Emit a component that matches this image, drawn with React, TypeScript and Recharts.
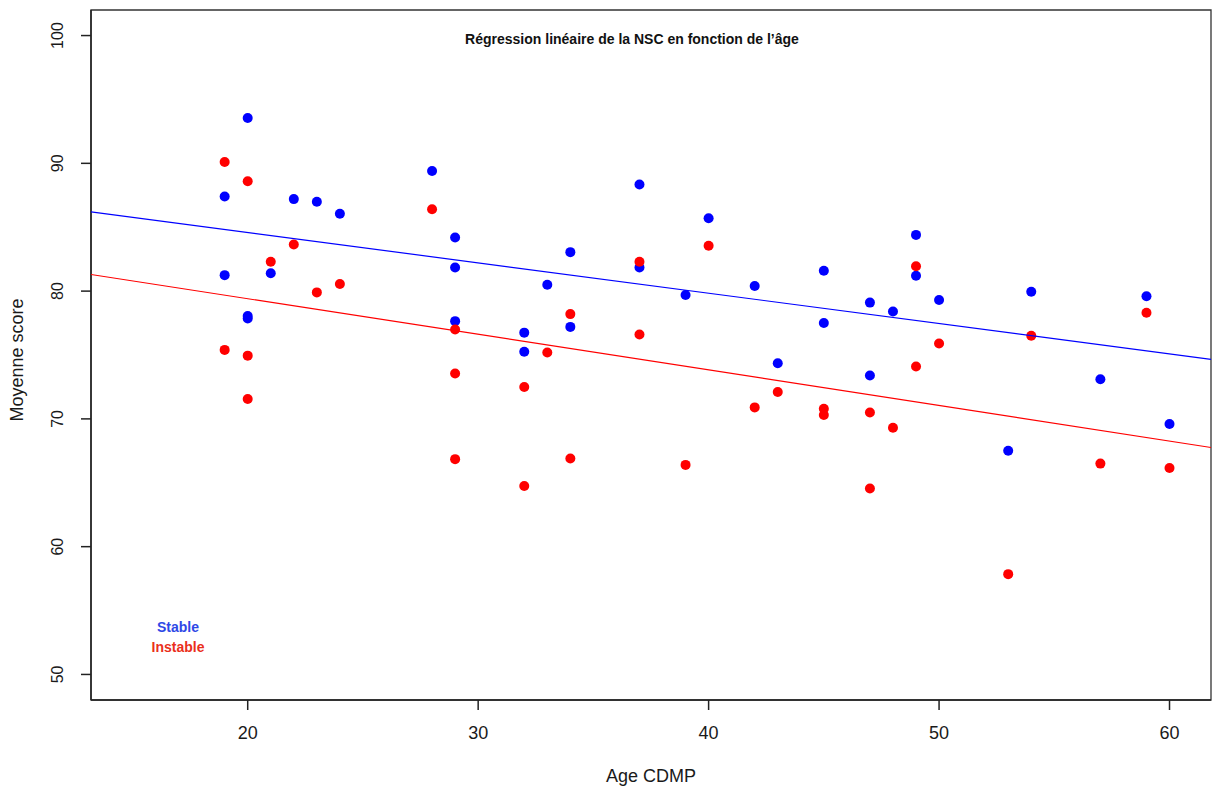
import { ScatterChart, Scatter, XAxis, YAxis, ReferenceArea, Label } from 'recharts'

const FONT = '"Liberation Sans", Arial, Helvetica, sans-serif'

// age of each subject (same subjects in both groups)
const ages = [
  19, 19, 20, 20, 20, 21, 22, 23, 24, 28, 29, 29, 29, 32, 32, 33, 34, 34, 37,
  37, 39, 40, 42, 43, 45, 45, 47, 47, 48, 49, 49, 50, 53, 54, 57, 59, 60,
]
const stableScores = [
  87.4, 81.25, 93.55, 78.05, 77.85, 81.4, 87.2, 87.0, 86.05, 89.4, 84.2, 81.85, 77.65,
  76.75, 75.25, 80.5, 83.05, 77.2, 88.35, 81.85, 79.7, 85.7, 80.4, 74.35, 81.6, 77.5,
  79.1, 73.4, 78.4, 84.4, 81.2, 79.3, 67.5, 79.95, 73.1, 79.6, 69.6,
]
const instableScores = [
  90.1, 75.4, 88.6, 74.95, 71.55, 82.3, 83.65, 79.9, 80.55, 86.4, 77.0, 73.55, 66.85,
  72.5, 64.75, 75.2, 78.2, 66.9, 82.3, 76.6, 66.4, 83.55, 70.9, 72.1, 70.8, 70.3,
  70.5, 64.55, 69.3, 81.95, 74.1, 75.9, 57.85, 76.5, 66.5, 78.3, 66.15,
]

// regression lines, ends at the plot edges
const fitAges = [13.2, 61.8]
const stableFit = [86.2, 74.66]
const instableFit = [81.3, 67.76]

const xTicks = [20, 30, 40, 50, 60]
const yTicks = [50, 60, 70, 80, 90, 100]
const xDomain: [number, number] = [13.2, 61.8]
const yDomain: [number, number] = [48, 102]

const groups = [
  { name: 'Stable', scores: stableScores, fit: stableFit, color: '#0000FF', text: '#2E48E6' },
  { name: 'Instable', scores: instableScores, fit: instableFit, color: '#FF0000', text: '#EA2F1C' },
]

const toPoints = (xs: number[], ys: number[]) => xs.map((age, i) => ({ age, score: ys[i] }))

const Dot = (color: string) => (p: any) => <circle cx={p.cx} cy={p.cy} r={5} fill={color} />

const YTick = (p: any) => (
  <text x={p.x} y={p.y} transform={`rotate(-90, ${p.x}, ${p.y})`}
    textAnchor="middle" fontSize={16} fontFamily={FONT} fill="#1a1a1a">
    {p.payload.value}
  </text>
)

export default function App() {
  return (
    <div style={{ position: 'absolute', left: 0, top: 0, width: 1221, height: 790, background: '#fff' }}>
      <div style={{
        position: 'absolute', left: 432, top: 29, width: 400, textAlign: 'center',
        fontFamily: FONT, fontWeight: 'bold', fontSize: 14, lineHeight: '20px', color: '#111',
      }}>
        Régression linéaire de la NSC en fonction de l’âge
      </div>
      <div style={{
        position: 'absolute', left: 128, top: 617, width: 100, textAlign: 'center', zIndex: 1,
        fontFamily: FONT, fontWeight: 'bold', fontSize: 14, lineHeight: '20px',
      }}>
        {groups.map(g => <div key={g.name} style={{ color: g.text }}>{g.name}</div>)}
      </div>
      <ScatterChart width={1221} height={790} margin={{ top: 10, right: 10, bottom: 0, left: 0 }}>
        <XAxis type="number" dataKey="age" domain={xDomain} ticks={xTicks} allowDataOverflow
          height={90} tickSize={10} tickMargin={16}
          axisLine={{ stroke: '#222', strokeWidth: 1.5 }} tickLine={{ stroke: '#222', strokeWidth: 1.5 }}
          tick={{ fill: '#1a1a1a', fontSize: 18, fontFamily: FONT }}>
          <Label content={({ viewBox }: any) => (
            <text x={viewBox.x + viewBox.width / 2} y={782} textAnchor="middle"
              fontSize={18} fontFamily={FONT} fill="#1a1a1a">Age CDMP</text>
          )} />
        </XAxis>
        <YAxis type="number" dataKey="score" domain={yDomain} ticks={yTicks} allowDataOverflow
          width={91} tickSize={10} tickMargin={18}
          axisLine={{ stroke: '#222', strokeWidth: 1.5 }} tickLine={{ stroke: '#222', strokeWidth: 1.5 }}
          tick={YTick}>
          <Label content={({ viewBox }: any) => {
            const cy = viewBox.y + viewBox.height / 2 + 5
            return (
              <text x={23} y={cy} transform={`rotate(-90, 23, ${cy})`} textAnchor="middle"
                fontSize={18} fontFamily={FONT} fill="#1a1a1a">Moyenne score</text>
            )
          }} />
        </YAxis>
        <ReferenceArea x1={xDomain[0]} x2={xDomain[1]} y1={yDomain[0]} y2={yDomain[1]}
          fill="none" stroke="#333" strokeWidth={1.3} fillOpacity={0} />
        {groups.map(g => (
          <Scatter key={g.name} name={g.name} data={toPoints(ages, g.scores)}
            shape={Dot(g.color)} isAnimationActive={false} />
        ))}
        {groups.map(g => (
          <Scatter key={g.name + '-fit'} data={toPoints(fitAges, g.fit)} legendType="none"
            line={{ stroke: g.color, strokeWidth: 1.2 }} shape={() => <g />} isAnimationActive={false} />
        ))}
      </ScatterChart>
    </div>
  )
}
